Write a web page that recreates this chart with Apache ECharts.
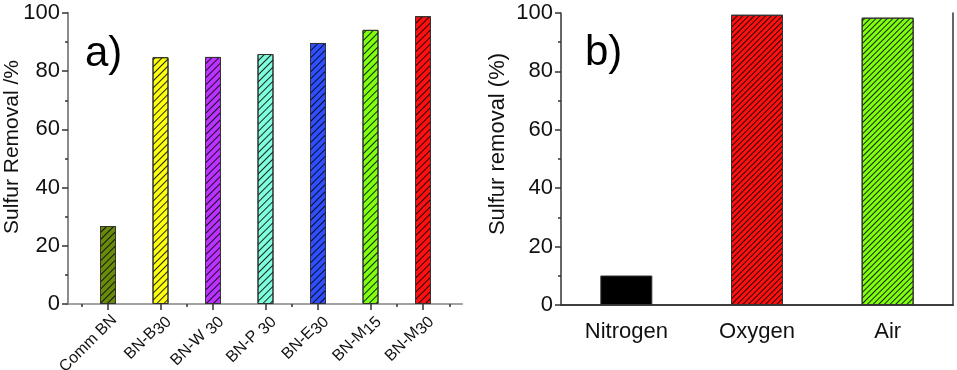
<!DOCTYPE html>
<html>
<head>
<meta charset="utf-8">
<script src="https://cdn.jsdelivr.net/npm/echarts@6/dist/echarts.min.js"></script>
<style>html,body{margin:0;padding:0;background:#fff;}#c{width:957px;height:370px;}</style>
</head>
<body>
<div id="c"></div>
<script>
// ---- data ----
var categoriesA = ['Comm BN', 'BN-B30', 'BN-W 30', 'BN-P 30', 'BN-E30', 'BN-M15', 'BN-M30'];
var valuesA = [26.8, 84.8, 84.9, 85.9, 89.7, 94.2, 98.9];
var colorsA = ['#6a8a0c', '#ffff10', '#bb33ff', '#80ffdd', '#2f4fff', '#80ff10', '#ff1010'];
var categoriesB = ['Nitrogen', 'Oxygen', 'Air'];
var valuesB = [10.1, 99.4, 98.4];
var colorsB = ['#000000', '#ff1010', '#80ff10'];
var hatchB = [false, true, true];
var yTicks = [0, 20, 40, 60, 80, 100];

var FONT = 'Liberation Sans, Arial, sans-serif';
var chart = echarts.init(document.getElementById('c'), null, {renderer: 'canvas'});

function hatch(gap) {
  return {symbol: 'rect', symbolSize: 1, dashArrayX: [1, 0], dashArrayY: [1, gap],
          rotation: -Math.PI / 4, color: 'rgba(0,0,0,0.85)'};
}

function yAxisMain(grid) {
  return {
    type: 'value', gridIndex: grid, min: yTicks[0], max: yTicks[yTicks.length - 1], interval: 20,
    axisLine: {show: true, lineStyle: {color: '#333', width: 1.5}},
    axisTick: {show: true, inside: false, length: 6, lineStyle: {color: '#333', width: 1.5}},
    minorTick: {show: true, splitNumber: 2, length: 3, lineStyle: {color: '#333', width: 1.5}},
    axisLabel: {fontSize: 22, color: '#111', fontFamily: FONT, margin: 8},
    splitLine: {show: false}
  };
}

var option = {
  animation: false,
  grid: [
    {left: 68, top: 13, width: 394, height: 291, containLabel: false, outerBoundsMode: 'none'},
    {left: 81.75, top: 13, width: 367.5, height: 291, containLabel: false, outerBoundsMode: 'none'},
    {left: 561, top: 13, width: 392, height: 292, containLabel: false, outerBoundsMode: 'none'}
  ],
  xAxis: [
    {type: 'value', gridIndex: 0, min: 0, max: 1, position: 'bottom',
     axisLine: {show: true, lineStyle: {color: '#333', width: 1.5}},
     axisTick: {show: false}, axisLabel: {show: false}, splitLine: {show: false}},
    {type: 'value', gridIndex: 0, min: 0, max: 1, position: 'top',
     axisLine: {show: true, lineStyle: {color: '#b8b8b8', width: 1.5}},
     axisTick: {show: false}, axisLabel: {show: false}, splitLine: {show: false}},
    {type: 'category', gridIndex: 1, data: categoriesA, position: 'bottom',
     axisLine: {show: false},
     axisTick: {show: true, length: 3, lineStyle: {color: '#333', width: 1.5}},
     axisLabel: {show: false}},
    {type: 'category', gridIndex: 1, data: categoriesA, position: 'bottom',
     axisLine: {show: false},
     axisTick: {show: true, alignWithLabel: true, length: 6, lineStyle: {color: '#333', width: 1.5}},
     axisLabel: {
       show: true, rotate: 45, margin: 7, color: '#111', fontFamily: FONT, fontSize: 16,
       verticalAlign: 'top',
       formatter: function (v) {
         var m = v.match(/^(.*?)(\d+)$/);
         if (!m) return '{n|' + v + '}';
         return '{n|' + m[1] + '}{s|' + m[2] + '}';
       },
       rich: {
         n: {fontSize: 16, fontFamily: FONT, color: '#111', lineHeight: 18},
         s: {fontSize: 16, fontFamily: FONT, color: '#111', lineHeight: 18, padding: [6, 0, 0, 0]}
       }
     }},
    {type: 'category', gridIndex: 2, data: categoriesB, position: 'bottom',
     axisLine: {show: true, lineStyle: {color: '#333', width: 1.5}},
     axisTick: {show: false},
     axisLabel: {fontSize: 22, color: '#111', fontFamily: FONT, margin: 16}},
    {type: 'value', gridIndex: 2, min: 0, max: 1, position: 'top',
     axisLine: {show: true, lineStyle: {color: '#333', width: 1.5}},
     axisTick: {show: false}, axisLabel: {show: false}, splitLine: {show: false}}
  ],
  yAxis: [
    yAxisMain(0),
    {type: 'value', gridIndex: 0, min: 0, max: 100, position: 'right',
     axisLine: {show: true, lineStyle: {color: '#999', width: 1.5}},
     axisTick: {show: false}, axisLabel: {show: false}, splitLine: {show: false}},
    {type: 'value', gridIndex: 1, min: 0, max: 100, show: false},
    yAxisMain(2),
    {type: 'value', gridIndex: 2, min: 0, max: 100, position: 'right',
     axisLine: {show: true, lineStyle: {color: '#333', width: 1.5}},
     axisTick: {show: false}, axisLabel: {show: false}, splitLine: {show: false}}
  ],
  series: [
    {type: 'bar', xAxisIndex: 3, yAxisIndex: 2, barWidth: 16,
     data: valuesA.map(function (v, i) {
       return {value: v, itemStyle: {color: colorsA[i], borderColor: '#333', borderWidth: 1, decal: hatch(4)}};
     })},
    {type: 'bar', xAxisIndex: 4, yAxisIndex: 3, barWidth: 52,
     data: valuesB.map(function (v, i) {
       var st = {color: colorsB[i], borderColor: '#333', borderWidth: 1};
       if (hatchB[i]) st.decal = hatch(2.5);
       return {value: v, itemStyle: st};
     })}
  ],
  graphic: [
    {type: 'text', left: 85, top: 33, style: {text: 'a)', fontSize: 42, fontFamily: FONT, fill: '#000'}},
    {type: 'text', left: 585, top: 32, style: {text: 'b)', fontSize: 42, fontFamily: FONT, fill: '#000'}},
    {type: 'text', x: 12, y: 147, rotation: Math.PI / 2,
     style: {text: 'Sulfur Removal /%', fontSize: 21, fontFamily: FONT, fill: '#111', align: 'center', verticalAlign: 'middle'}},
    {type: 'text', x: 498, y: 144, rotation: Math.PI / 2,
     style: {text: 'Sulfur removal (%)', fontSize: 22, fontFamily: FONT, fill: '#111', align: 'center', verticalAlign: 'middle'}}
  ]
};
chart.setOption(option);
</script>
</body>
</html>
